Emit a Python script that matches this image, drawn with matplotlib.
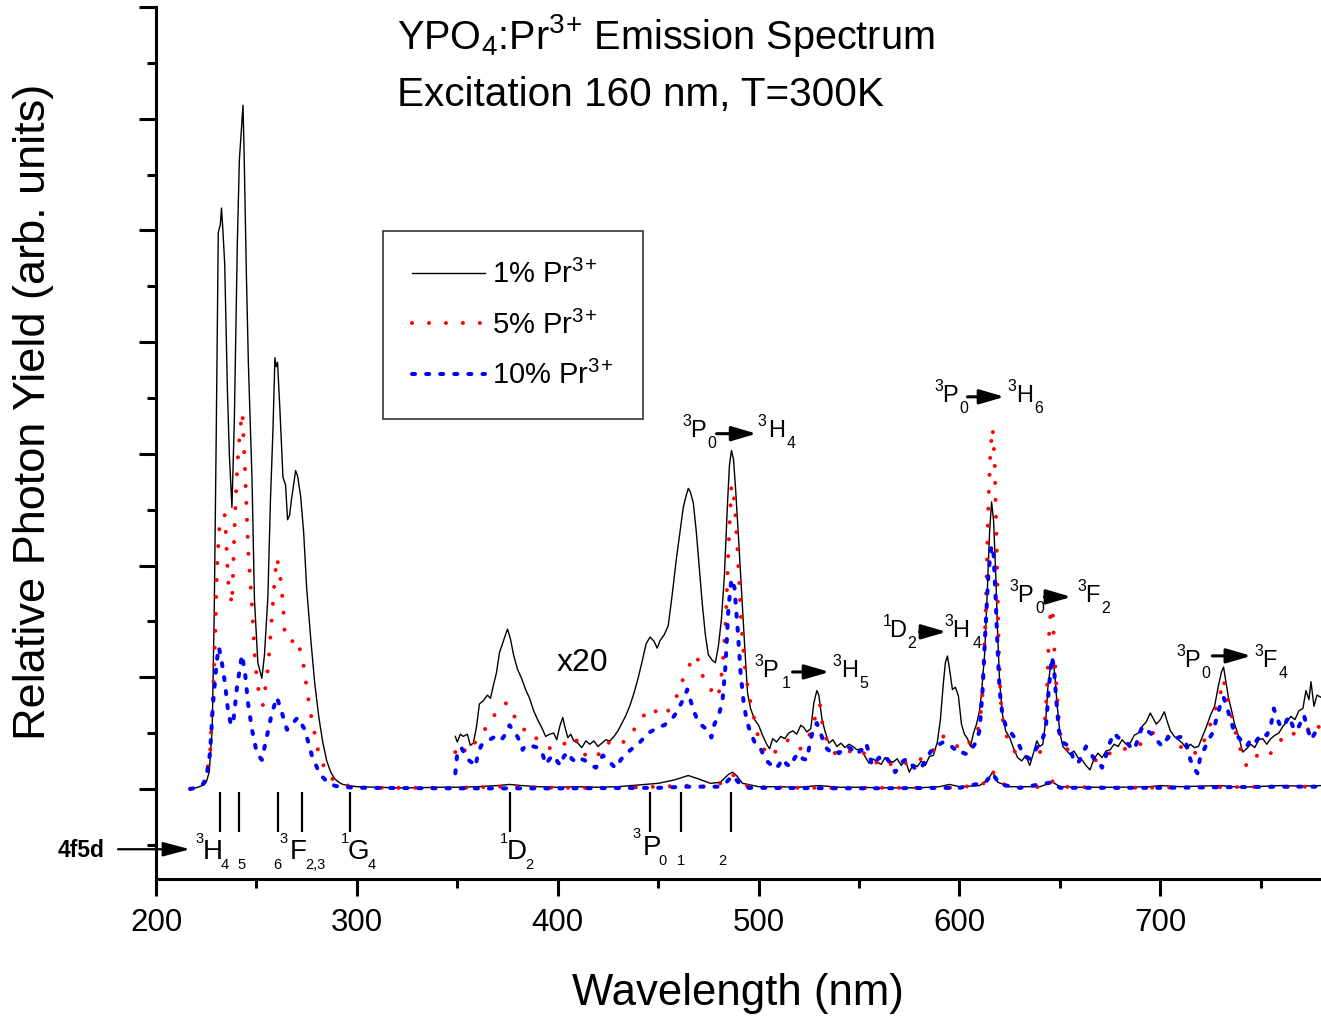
import matplotlib
matplotlib.use('Agg')
import matplotlib.pyplot as plt
from matplotlib.ticker import MultipleLocator

plt.rcParams['font.family'] = 'Liberation Sans'
plt.rcParams['mathtext.fontset'] = 'custom'
plt.rcParams['mathtext.rm'] = 'Liberation Sans'
plt.rcParams['mathtext.it'] = 'Liberation Sans:italic'
plt.rcParams['mathtext.bf'] = 'Liberation Sans:bold'
plt.rcParams['mathtext.default'] = 'regular'

# ---- full spectra (unscaled), wavelength in nm ----
wl_1 = [217, 220, 223, 225, 226.5, 228, 229, 230, 231, 232, 232.6, 233.3, 234.2, 234.8, 235.5, 236.5,
        237.8, 239, 240.5, 241.5, 242.5, 243.3, 243.8, 245, 246, 247.8, 249, 250.7, 252.7, 254, 255.7,
        257, 258.2, 259.2, 259.8, 260.5, 261.7, 263.2, 264.5, 265.5, 266.5, 267.5, 268.5, 269.5, 270.5,
        272, 273.5, 275, 277, 279, 281, 283, 285, 287, 289, 291, 293, 296, 300, 310, 320, 330, 340, 350,
        360, 370, 376, 382, 390, 400, 410, 420, 430, 440, 450, 458, 465, 470, 476, 481, 485, 487, 489,
        492, 500, 510, 520, 530, 540, 550, 560, 570, 580, 590, 595, 600, 610, 614, 616.5, 619, 625, 640,
        646.5, 650, 660, 680, 695, 700, 710, 730, 740, 760, 770, 780]
main_1 = [0.00, 0.01, 0.03, 0.06, 0.15, 0.55, 1.60, 3.20, 4.98, 5.05, 5.20, 5.00, 4.70, 4.20, 3.60, 3.00,
          2.52, 3.30, 4.90, 5.63, 5.90, 6.12, 5.75, 4.60, 3.80, 2.77, 1.70, 1.13, 0.99, 1.20, 1.72,
          2.60, 3.20, 3.86, 3.78, 3.82, 3.39, 2.79, 2.72, 2.41, 2.45, 2.60, 2.72, 2.85, 2.80,
          2.62, 2.30, 1.80, 1.35, 0.95, 0.65, 0.42, 0.25, 0.15, 0.09, 0.06, 0.04, 0.03, 0.02, 0.015, 0.01,
          0.01, 0.015, 0.015, 0.02, 0.03, 0.04, 0.03, 0.02, 0.015, 0.02, 0.015, 0.02, 0.035, 0.05, 0.08,
          0.12, 0.09, 0.05, 0.06, 0.13, 0.15, 0.12, 0.05, 0.02, 0.02, 0.015, 0.03, 0.015, 0.015, 0.01,
          0.01, 0.01, 0.02, 0.04, 0.02, 0.03, 0.08, 0.15, 0.06, 0.02, 0.02, 0.06, 0.02, 0.015, 0.015,
          0.02, 0.03, 0.02, 0.03, 0.015, 0.03, 0.025, 0.03]

wl_5 = [217, 220, 223, 225, 227, 228.5, 229.5, 230.3, 231.8, 233, 234.3, 235.3, 235.8, 237.8, 239.3,
        240.5, 241.8, 243, 244.3, 245.8, 247.8, 249.3, 250.7, 253.2, 255.7, 257.7, 259.2, 260.2, 261.7,
        263.2, 264.2, 265.5, 267.7, 270.1, 273.1, 276.6, 280.6, 285, 290, 295.5, 300, 310, 330, 350, 370,
        380, 400, 430, 450, 465, 475, 483, 487, 490, 495, 520, 560, 600, 612, 616.5, 620, 630, 643, 646.5,
        650, 680, 720, 760, 780]
main_5 = [0.00, 0.01, 0.02, 0.08, 0.35, 0.90, 1.40, 1.96, 2.41, 2.45, 2.45, 2.10, 1.87, 1.65, 2.44,
          2.90, 3.21, 3.37, 2.86, 2.17, 1.63, 1.15, 0.91, 0.75, 1.07, 1.54, 1.90, 2.07, 1.93,
          1.67, 1.35, 1.33, 1.32, 1.35, 1.15, 0.71, 0.35, 0.13, 0.06, 0.03, 0.015, 0.01, 0.01, 0.01, 0.02,
          0.02, 0.01, 0.01, 0.02, 0.03, 0.02, 0.06, 0.13, 0.08, 0.02, 0.01, 0.01, 0.01, 0.05, 0.16, 0.05,
          0.01, 0.02, 0.07, 0.02, 0.01, 0.015, 0.02, 0.02]

wl_10 = [217, 220, 223, 225, 226.9, 228.4, 230.3, 231.3, 232.8, 234.3, 235.8, 237, 238.3, 240.3, 242.8,
         244.3, 245.8, 247.8, 250.2, 252.7, 255.2, 257.7, 260.2, 262.7, 265.2, 268.2, 270.6, 274.1,
         277.6, 281.6, 286.6, 291, 300, 350, 400, 450, 465, 480, 484, 487, 490, 495, 550, 600, 613,
         616.5, 620, 630, 646.5, 650, 700, 760, 780]
main_10 = [0.00, 0.01, 0.03, 0.10, 0.32, 0.77, 1.15, 1.27, 1.13, 0.95, 0.71, 0.60, 0.57, 0.91, 1.20,
           1.04, 0.77, 0.53, 0.32, 0.26, 0.47, 0.68, 0.82, 0.68, 0.53, 0.59, 0.64, 0.53,
           0.30, 0.13, 0.04, 0.02, 0.01, 0.005, 0.005, 0.01, 0.02, 0.02, 0.06, 0.12, 0.06, 0.01, 0.005,
           0.01, 0.06, 0.14, 0.04, 0.01, 0.06, 0.01, 0.01, 0.02, 0.02]

# ---- x20 magnified part (as displayed) ----
wl_x20_1 = [349, 350, 351.5, 353, 355, 356.5, 358, 359.5, 361, 363, 365, 366.5, 368, 369.5, 371, 372.5,
            374, 375, 376.5, 378, 380, 382, 384, 386, 388, 390, 392, 394, 396, 398, 399.5, 401, 402.5,
            403.5, 405, 406.5, 408, 410, 412, 414, 416, 418, 420, 422, 424, 426, 428, 430, 432, 434, 436,
            438, 440, 442, 444, 446, 448, 449.5, 451, 453, 455, 457, 459, 461, 462.5, 464, 465, 466,
            467.5, 469, 470.5, 472, 473.5, 475, 477, 478.5, 480, 481.5, 483, 484.5, 485.5, 486.5, 487.5,
            488.5, 490, 491.5, 493, 494.5, 496, 498, 500, 502, 504, 505.5, 507, 509, 511, 513, 515, 517,
            519, 521, 522.5, 524, 526, 527.5, 529, 530, 531.5, 533, 535, 537, 539, 541, 543, 545, 547,
            549, 551, 553, 555, 557, 559, 561, 563, 565, 567, 569, 571, 573, 575, 577, 579, 581, 583, 585,
            587, 589, 590.5, 592, 593, 594, 595, 596.5, 598, 599.5, 601, 602.5, 604, 605.5, 607, 608.5,
            610, 611, 612.5, 613.5, 615, 616, 617, 618, 619, 620, 621.5, 623, 625, 627, 629, 631, 633,
            635, 637, 638.5, 640, 641.5, 643, 644, 645.5, 646.5, 647.5, 648.5, 650, 651.5, 653, 655, 657,
            659, 661, 663, 665, 667, 669, 671, 673, 675, 677, 679, 681, 683, 685, 687, 689, 691, 693, 695,
            696.5, 698, 700, 702, 703.5, 705, 707, 709, 711, 713, 715, 717, 719, 721, 723, 725, 727, 729,
            730.5, 731.5, 732.5, 734, 735.5, 737, 739, 741, 743, 745, 747, 749, 751, 753, 755, 757, 759,
            761, 763, 765, 767, 769, 771, 772.5, 774, 775, 776.5, 778, 780]
x20_1 = [0.47, 0.42, 0.49, 0.47, 0.49, 0.39, 0.41, 0.55, 0.76, 0.79, 0.84, 0.81, 0.93, 1.04, 1.22, 1.30,
         1.38, 1.43, 1.34, 1.20, 1.07, 0.99, 0.89, 0.81, 0.70, 0.62, 0.55, 0.47, 0.49, 0.50, 0.44, 0.56,
         0.64, 0.56, 0.46, 0.49, 0.43, 0.41, 0.37, 0.43, 0.40, 0.43, 0.38, 0.41, 0.44, 0.43, 0.47, 0.52,
         0.59, 0.66, 0.75, 0.86, 0.99, 1.14, 1.30, 1.36, 1.32, 1.26, 1.33, 1.38, 1.46, 1.74, 2.05, 2.32,
         2.52, 2.63, 2.69, 2.66, 2.56, 2.30, 1.97, 1.65, 1.38, 1.20, 1.15, 1.13, 1.28, 1.52, 1.92, 2.55,
         2.90, 3.03, 2.95, 2.70, 2.25, 1.78, 1.30, 0.86, 0.72, 0.62, 0.57, 0.48, 0.40, 0.36, 0.45, 0.42,
         0.47, 0.45, 0.50, 0.52, 0.49, 0.57, 0.55, 0.51, 0.54, 0.77, 0.88, 0.84, 0.63, 0.52, 0.41, 0.44,
         0.38, 0.41, 0.37, 0.40, 0.38, 0.35, 0.36, 0.29, 0.23, 0.27, 0.24, 0.22, 0.28, 0.25, 0.24, 0.27,
         0.21, 0.26, 0.15, 0.22, 0.20, 0.25, 0.21, 0.29, 0.30, 0.42, 0.62, 0.95, 1.13, 1.19, 1.08, 0.89,
         0.91, 0.83, 0.58, 0.49, 0.45, 0.38, 0.50, 0.58, 0.70, 0.86, 1.20, 1.60, 2.30, 2.57, 2.40, 1.95,
         1.40, 0.95, 0.66, 0.52, 0.46, 0.36, 0.28, 0.25, 0.30, 0.21, 0.33, 0.43, 0.38, 0.40, 0.62, 0.90,
         1.13, 1.16, 1.02, 0.78, 0.50, 0.38, 0.35, 0.31, 0.34, 0.28, 0.26, 0.21, 0.17, 0.27, 0.32, 0.28,
         0.34, 0.35, 0.40, 0.38, 0.44, 0.40, 0.41, 0.48, 0.50, 0.56, 0.60, 0.68, 0.63, 0.58, 0.62, 0.69,
         0.60, 0.52, 0.47, 0.44, 0.41, 0.36, 0.40, 0.37, 0.38, 0.47, 0.56, 0.66, 0.74, 0.93, 1.05, 1.09,
         0.98, 0.81, 0.70, 0.58, 0.47, 0.33, 0.36, 0.40, 0.37, 0.44, 0.45, 0.40, 0.45, 0.48, 0.50, 0.56,
         0.60, 0.65, 0.62, 0.70, 0.72, 0.88, 0.80, 0.96, 0.74, 0.84, 0.82]

wl_x20_5 = [349, 351, 353, 355, 357, 359, 361, 364, 367, 369, 371, 373, 375, 377, 379, 381, 383, 385,
            387, 389, 391, 393, 395, 397, 399, 401, 403, 405, 407, 409, 411, 413, 415, 417, 419, 421, 423,
            425, 427, 429, 431, 433, 435, 437, 439, 441, 443, 445, 447, 449, 451, 453, 455, 457, 459, 461,
            463, 465, 467, 468.5, 470, 472, 474, 476, 478, 480, 482, 483.5, 485, 486.5, 487.5, 488.5, 490,
            491.5, 493, 495, 497, 499, 501, 503, 505, 507, 509, 511, 513, 515, 517, 519, 521, 523, 525,
            527, 529, 530.5, 532, 534, 536, 538, 540, 542, 544, 546, 548, 550, 552, 554, 556, 558, 560,
            562, 564, 566, 568, 570, 572, 574, 576, 578, 580, 582, 584, 586, 588, 590, 592, 594, 596, 598,
            600, 602, 604, 606, 608, 610, 611.5, 613, 614.5, 615.5, 616.5, 617.5, 618.5, 619.5, 620.5,
            622, 624, 626, 628, 630, 632, 634, 636, 638, 640, 642, 643.5, 644.5, 645.5, 646.5, 647.5,
            648.5, 650, 652, 654, 656, 658, 660, 662, 664, 666, 668, 670, 672, 674, 676, 678, 680, 682,
            684, 686, 688, 690, 692, 694, 696, 698, 700, 702, 704, 706, 708, 710, 712, 714, 716, 718, 720,
            722, 724, 726, 728, 730, 731.5, 733, 735, 737, 739, 741, 743, 745, 747, 749, 751, 753, 755,
            757, 759, 761, 763, 765, 767, 769, 771, 773, 775, 777, 779]
x20_5 = [0.33, 0.40, 0.36, 0.32, 0.36, 0.42, 0.47, 0.54, 0.60, 0.68, 0.73, 0.76, 0.77, 0.70, 0.63, 0.56,
         0.53, 0.54, 0.52, 0.46, 0.42, 0.40, 0.37, 0.36, 0.35, 0.37, 0.40, 0.43, 0.47, 0.45, 0.36, 0.31,
         0.30, 0.28, 0.27, 0.33, 0.40, 0.42, 0.39, 0.41, 0.43, 0.42, 0.45, 0.50, 0.56, 0.62, 0.66, 0.69,
         0.73, 0.69, 0.65, 0.69, 0.70, 0.75, 0.82, 0.92, 1.01, 1.08, 1.17, 1.20, 1.15, 1.02, 0.93, 0.90,
         0.82, 0.83, 1.08, 1.45, 2.15, 2.72, 2.65, 2.45, 1.98, 1.45, 1.12, 0.85, 0.70, 0.52, 0.40, 0.35,
         0.29, 0.30, 0.35, 0.39, 0.42, 0.44, 0.43, 0.37, 0.36, 0.42, 0.47, 0.56, 0.70, 0.76, 0.55, 0.43,
         0.36, 0.32, 0.33, 0.36, 0.35, 0.33, 0.34, 0.31, 0.33, 0.28, 0.24, 0.23, 0.25, 0.22, 0.24, 0.22,
         0.24, 0.23, 0.25, 0.22, 0.24, 0.25, 0.27, 0.26, 0.30, 0.33, 0.36, 0.41, 0.47, 0.45, 0.42, 0.40,
         0.36, 0.35, 0.39, 0.44, 0.47, 0.58, 0.85, 1.55, 2.60, 3.05, 3.23, 2.95, 2.20, 1.30, 0.80, 0.55,
         0.45, 0.38, 0.32, 0.27, 0.26, 0.29, 0.27, 0.29, 0.32, 0.48, 0.85, 1.35, 1.62, 1.55, 1.15, 0.85,
         0.50, 0.40, 0.35, 0.32, 0.28, 0.26, 0.25, 0.24, 0.23, 0.26, 0.30, 0.32, 0.31, 0.33, 0.35, 0.34,
         0.36, 0.35, 0.37, 0.38, 0.40, 0.44, 0.47, 0.50, 0.51, 0.48, 0.46, 0.47, 0.44, 0.41, 0.38, 0.35,
         0.32, 0.31, 0.33, 0.34, 0.44, 0.53, 0.64, 0.74, 0.86, 0.98, 0.85, 0.70, 0.54, 0.40, 0.30, 0.20,
         0.22, 0.28, 0.31, 0.28, 0.29, 0.32, 0.35, 0.40, 0.47, 0.50, 0.48, 0.50, 0.52, 0.53, 0.55, 0.49,
         0.50, 0.56]

wl_x20_10 = [349, 350, 352, 354, 355.5, 357, 359, 360.5, 362, 364, 366, 368, 370, 372, 374, 376, 377.5,
             379, 381, 382.5, 384, 386, 388, 390, 392, 394, 396, 398, 400, 401.5, 403, 405, 407, 409,
             411, 413, 415, 417, 419, 421, 422.5, 424, 426, 428, 429.5, 431, 433, 435, 437, 439, 441,
             443, 445, 447, 449, 451, 453, 455, 457, 459, 461, 463, 464.5, 466, 467.5, 469, 471, 473,
             475, 476.5, 478, 480, 482, 483.5, 485, 486.5, 488, 489.5, 491, 492.5, 494, 496, 498, 500,
             502, 504, 506, 508, 510, 512, 514, 516, 518, 520, 522, 524, 526, 527.5, 529, 530.5, 532,
             534, 536, 538, 540, 542, 544, 546, 548, 550, 552, 553.5, 555, 556.5, 558, 560, 562, 564,
             566, 568, 570, 572, 574, 576, 578, 580, 582, 584, 586, 588, 590, 592, 594, 596, 598, 600,
             602, 604, 606, 608, 610, 611.5, 613, 614.5, 616, 617, 618, 619, 620, 621.5, 623, 625, 627,
             629, 631, 633, 635, 637, 639, 641, 643, 644.5, 646, 647, 648, 649.5, 651, 653, 655, 657,
             659, 661, 663, 665, 667, 669, 671, 673, 675, 677, 679, 681, 683, 685, 687, 689, 691, 693,
             695, 697, 699, 701, 703, 705, 707, 709, 711, 713, 715, 717, 718.5, 720, 722, 724, 726, 728,
             730, 731.5, 733, 735, 737, 739, 741, 743, 745, 747, 749, 751, 753, 755, 756.5, 758, 760,
             762, 764, 766, 768, 770, 771.5, 773, 775, 777, 779]
x20_10 = [0.14, 0.32, 0.37, 0.30, 0.26, 0.24, 0.20, 0.33, 0.39, 0.42, 0.44, 0.46, 0.47, 0.44, 0.49, 0.57,
          0.53, 0.50, 0.43, 0.35, 0.39, 0.39, 0.38, 0.37, 0.34, 0.22, 0.27, 0.30, 0.24, 0.21, 0.29, 0.33,
          0.27, 0.24, 0.27, 0.26, 0.24, 0.21, 0.19, 0.26, 0.30, 0.27, 0.24, 0.20, 0.19, 0.25, 0.30, 0.33,
          0.36, 0.40, 0.42, 0.46, 0.50, 0.52, 0.54, 0.56, 0.57, 0.60, 0.63, 0.68, 0.75, 0.82, 0.89, 0.80,
          0.71, 0.64, 0.58, 0.55, 0.52, 0.46, 0.58, 0.65, 0.78, 1.10, 1.62, 1.88, 1.80, 1.45, 1.05, 0.78,
          0.62, 0.50, 0.42, 0.40, 0.32, 0.25, 0.22, 0.18, 0.21, 0.27, 0.22, 0.20, 0.28, 0.32, 0.27, 0.26,
          0.45, 0.55, 0.59, 0.52, 0.44, 0.36, 0.33, 0.35, 0.32, 0.35, 0.38, 0.36, 0.31, 0.33, 0.36, 0.41,
          0.32, 0.21, 0.24, 0.28, 0.24, 0.27, 0.22, 0.15, 0.20, 0.25, 0.27, 0.22, 0.18, 0.17, 0.22, 0.29,
          0.34, 0.38, 0.40, 0.42, 0.41, 0.38, 0.35, 0.36, 0.32, 0.31, 0.36, 0.41, 0.52, 0.88, 1.45, 1.95,
          2.18, 2.10, 1.72, 1.25, 0.88, 0.65, 0.57, 0.52, 0.47, 0.42, 0.34, 0.29, 0.27, 0.33, 0.38, 0.42,
          0.55, 0.90, 1.18, 1.10, 0.85, 0.52, 0.42, 0.40, 0.37, 0.25, 0.23, 0.30, 0.38, 0.33, 0.27, 0.26,
          0.19, 0.30, 0.42, 0.50, 0.46, 0.44, 0.42, 0.38, 0.35, 0.45, 0.56, 0.53, 0.50, 0.47, 0.42, 0.38,
          0.44, 0.48, 0.45, 0.46, 0.47, 0.40, 0.26, 0.18, 0.14, 0.30, 0.36, 0.44, 0.50, 0.63, 0.76, 0.82,
          0.74, 0.62, 0.50, 0.46, 0.42, 0.38, 0.44, 0.41, 0.46, 0.50, 0.48, 0.56, 0.72, 0.64, 0.55, 0.58,
          0.65, 0.56, 0.52, 0.60, 0.66, 0.56, 0.44, 0.50, 0.56]

series_labels = ['1% Pr$^{3}$$^{+}$', '5% Pr$^{3}$$^{+}$', '10% Pr$^{3}$$^{+}$']

# level markers under the spectrum
marker_wl = [231.8, 241.4, 260.8, 272.5, 296.5, 376.1, 445.8, 461.5, 486.4]

# transition labels: (sup, letter, sub) -> (sup, letter, sub)
trans_text = [('3', 'P', '0', '3', 'H', '4'),
              ('3', 'P', '0', '3', 'H', '6'),
              ('3', 'P', '1', '3', 'H', '5'),
              ('1', 'D', '2', '3', 'H', '4'),
              ('3', 'P', '0', '3', 'F', '2'),
              ('3', 'P', '0', '3', 'F', '4')]
# x of sup, letter, sub, arrow start, arrow end, sup2, letter2, sub2 ; baseline ; arrow y
trans_x = [(462.2, 465.7, 474.6, 479.1, 499.0, 499.5, 504.5, 513.9),
           (587.6, 591.5, 600.0, 604.0, 622.4, 623.9, 628.4, 637.3),
           (498.0, 502.0, 511.4, 516.9, 535.3, 536.8, 541.3, 550.2),
           (561.7, 565.2, 574.1, 580.1, 593.5, 592.5, 596.5, 606.5),
           (624.9, 628.9, 637.8, 642.3, 655.7, 658.7, 662.7, 670.6),
           (707.9, 711.9, 720.4, 725.9, 745.3, 746.8, 750.7, 758.7)]
trans_base = [3.151, 3.465, 1.003, 1.361, 1.674, 1.092]
trans_arrow_y = [3.18, 3.51, 1.047, 1.406, 1.719, 1.191]

# level names under the markers: (text, x, kind) kind: sup / main / sub
level_text = [('3', 219.4, 'sup'), ('H', 223.4, 'main'), ('4', 232.3, 'sub'), ('5', 240.3, 'sub'),
              ('6', 258.2, 'sub'), ('3', 261.7, 'sup'), ('F', 266.7, 'main'), ('2,3', 274.1, 'sub'),
              ('1', 292.0, 'sup'), ('G', 295.5, 'main'), ('4', 305.5, 'sub'),
              ('1', 371.1, 'sup'), ('D', 374.6, 'main'), ('2', 383.6, 'sub')]
level_p_text = [('3', 437.3, 'sup'), ('P', 442.3, 'main'), ('0', 450.2, 'sub'), ('1', 459.2, 'sub'),
                ('2', 480.1, 'sub')]

fig = plt.figure(figsize=(13.21, 10.23), dpi=100)
ax = fig.add_axes([0.1181, 0.1408, 0.8819, 0.8524])

red_ls = (0, (0.01, 4.2))
blue_ls = (0, (0.75, 2.75))

ax.plot(wl_1, main_1, color='black', lw=1.0)
ax.plot(wl_5, main_5, color='red', lw=2.9, linestyle=red_ls, dash_capstyle='round')
ax.plot(wl_10, main_10, color='blue', lw=2.9, linestyle=blue_ls, dash_capstyle='round')

l1, = ax.plot(wl_x20_1, x20_1, color='black', lw=1.0, label=series_labels[0])
l5, = ax.plot(wl_x20_5, x20_5, color='red', lw=2.9, linestyle=red_ls,
              dash_capstyle='round', label=series_labels[1])
l10, = ax.plot(wl_x20_10, x20_10, color='blue', lw=2.9, linestyle=blue_ls,
               dash_capstyle='round', label=series_labels[2])

ax.set_xlim(200, 780)
ax.set_ylim(-0.806, 7.0)
ax.xaxis.set_major_locator(MultipleLocator(100))
ax.xaxis.set_minor_locator(MultipleLocator(50))
ax.yaxis.set_major_locator(MultipleLocator(1))
ax.yaxis.set_minor_locator(MultipleLocator(0.5))
ax.set_yticklabels([])
ax.tick_params(which='major', length=12, width=2.2, direction='out', labelsize=22.5, pad=9)
ax.tick_params(which='minor', length=6.5, width=2.2, direction='out')
for s in ['top', 'right']:
    ax.spines[s].set_visible(False)
for s in ['left', 'bottom']:
    ax.spines[s].set_linewidth(2.2)

fig.text(0.5587, 0.0293, 'Wavelength (nm)', fontsize=31.5, ha='center', va='center')
fig.text(0.025, 0.597, 'Relative Photon Yield (arb. units)', fontsize=32.5, rotation=90,
         ha='center', va='center')

# title
ax.text(319.9, 6.62, 'YPO$_4$:Pr$^{3}$$^{+}$ Emission Spectrum', fontsize=28.5, va='baseline')
ax.text(319.9, 6.11, 'Excitation 160 nm, T=300K', fontsize=29.2, va='baseline')
ax.text(399.5, 1.13, 'x20', fontsize=23, va='center')

# transition labels with arrows
dy = 0.098
small = 11.5
for txt, xs, yb, ay in zip(trans_text, trans_x, trans_base, trans_arrow_y):
    ax.text(xs[0], yb + dy, txt[0], fontsize=small, va='baseline')
    ax.text(xs[1], yb, txt[1], fontsize=17, va='baseline')
    ax.text(xs[2], yb - dy, txt[2], fontsize=small, va='baseline')
    ax.text(xs[5], yb + dy, txt[3], fontsize=small, va='baseline')
    ax.text(xs[6], yb, txt[4], fontsize=17, va='baseline')
    ax.text(xs[7], yb - dy, txt[5], fontsize=small, va='baseline')
    ax.annotate('', xy=(xs[4], ay), xytext=(xs[3], ay),
                arrowprops=dict(arrowstyle='-|>,head_length=0.75,head_width=0.22', color='black',
                                lw=2.2, shrinkA=0, shrinkB=0, mutation_scale=20))

# level markers
ax.vlines(marker_wl, -0.39, -0.03, color='black', lw=1.6)
for txt, x, kind in level_text:
    if kind == 'main':
        ax.text(x, -0.626, txt, fontsize=20, va='baseline')
    elif kind == 'sup':
        ax.text(x, -0.483, txt, fontsize=10.5, va='baseline')
    else:
        ax.text(x, -0.716, txt, fontsize=10.5, va='baseline')
for txt, x, kind in level_p_text:
    if kind == 'main':
        ax.text(x, -0.59, txt, fontsize=20, va='baseline')
    elif kind == 'sup':
        ax.text(x, -0.44, txt, fontsize=10.5, va='baseline')
    else:
        ax.text(x, -0.68, txt, fontsize=10.5, va='baseline')

ax.text(174.6, -0.61, '4f5d', fontsize=16.5, fontweight='bold', ha='right', va='baseline',
        clip_on=False)
ax.annotate('', xy=(216.9, -0.54), xytext=(181.1, -0.54), annotation_clip=False,
            arrowprops=dict(arrowstyle='-|>,head_length=0.75,head_width=0.2', color='black',
                            lw=1.6, shrinkA=0, shrinkB=0, mutation_scale=22))

leg = ax.legend(handles=[l1, l5, l10], loc='upper left', bbox_to_anchor=(0.1948, 0.743),
                borderaxespad=0, fancybox=False, edgecolor='black', fontsize=21,
                handlelength=2.5, handletextpad=0.25, labelspacing=0.72, borderpad=1.0)
leg.get_frame().set_linewidth(1.2)

fig.savefig('out.png', dpi=100)
